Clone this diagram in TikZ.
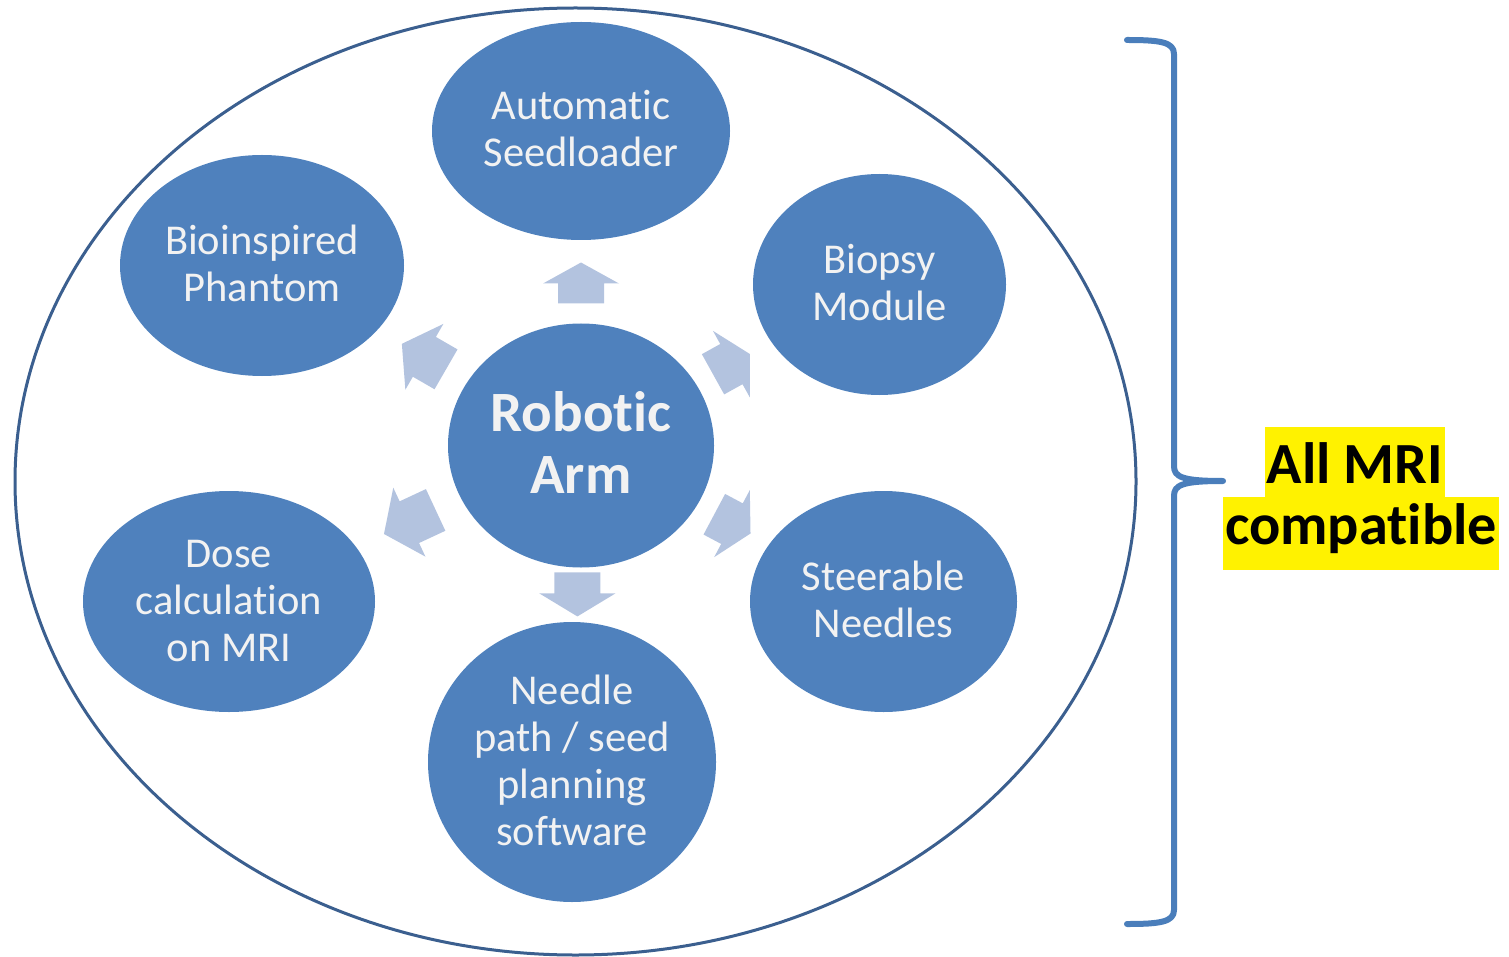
\documentclass[tikz,border=0pt]{standalone}
\usepackage{fontspec}
\setmainfont{Carlito}[Ligatures={NoCommon,NoContextual}]
\usetikzlibrary{shapes.geometric,calc}
\definecolor{blobfill}{HTML}{4F81BD}
\definecolor{ringline}{HTML}{3B5F8F}
\definecolor{bracecol}{HTML}{4A7EBB}
\definecolor{arrowfill}{HTML}{B3C3DF}
\definecolor{lighttext}{HTML}{F2F2F2}
\newcommand{\RAtop}{\rule{0pt}{52pt}}
\newcommand{\RAbot}{\rule[-18pt]{0pt}{18pt}}
\newcommand{\Ls}{\rule[-11pt]{0pt}{47pt}}
\tikzset{
  blob/.style={ellipse, fill=blobfill, draw=none, inner sep=0pt, align=center,
    text=lighttext, font=\fontsize{42.5}{47}\selectfont},
  hub/.style={blob, font=\fontsize{57}{62}\selectfont\bfseries},
  ring/.style={ellipse, draw=ringline, line width=3pt, inner sep=0pt},
  hilite/.style={fill=yellow, inner xsep=2pt, inner ysep=0pt, anchor=base,
    font=\fontsize{58.3}{70}\selectfont\bfseries, text=black},
  bracestyle/.style={draw=bracecol, line width=6pt, line cap=round, line join=round},
  pics/barrow/.style 2 args={code={
    \fill[arrowfill] (0,-23) -- (#1,-23) -- (#1,-38) -- ({#1+#2},0) -- (#1,38) -- (#1,23) -- (0,23) -- cycle;}}
}
\begin{document}
\begin{tikzpicture}[x=1pt,y=-1pt]
\useasboundingbox (0,0) rectangle (1509,957);
% outer ring
\node[ring, minimum width=1121pt, minimum height=947pt] (outer) at (575.5,481.5) {};
% satellites
\node[blob, minimum width=298pt, minimum height=218pt] (seed) at (581,131) {\Ls Automatic\\\Ls Seedloader};
\node[blob, minimum width=284pt, minimum height=221pt] (phantom) at (262,265.5) {\Ls Bioinspired\\\Ls Phantom};
\node[blob, minimum width=253pt, minimum height=221pt] (bio) at (879.5,284.5) {\Ls Biopsy\\\Ls Module};
\node[blob, minimum width=292pt, minimum height=221pt] (dose) at (229,601.5) {\Ls Dose\\\Ls calculation\\\Ls on MRI};
\node[blob, minimum width=267pt, minimum height=221pt] (steer) at (883.5,601.5) {\Ls Steerable\\\Ls Needles};
\node[blob, minimum width=288pt, minimum height=280pt] (needle) at (572,762) {\Ls Needle\\\Ls path / seed\\\Ls planning\\\Ls software};
% hub
\node[hub, minimum width=266pt, minimum height=244pt] (robot) at (581,445.5) {\RAtop Robotic\\Arm\RAbot};
% block arrows from hub towards satellites
\pic[rotate=90]  at ($(robot.center)!142pt!(seed.center)$)    {barrow={20}{21}};
\pic[rotate=29]  at ($(robot.center)!150pt!(bio.center)$)     {barrow={21}{21}};
\pic[rotate=-28] at ($(robot.center)!150pt!(steer.center)$)   {barrow={20}{21}};
\pic[rotate=-90] at ($(robot.center)!127pt!(needle.center)$)  {barrow={21}{23}};
\pic[rotate=205] at ($(robot.center)!159pt!(dose.center)$)    {barrow={29}{28}};
\pic[rotate=150] at ($(robot.center)!155pt!(phantom.center)$) {barrow={25}{26}};
% brace
\coordinate (btop) at (1127,40);
\coordinate (btip) at (1223,481);
\coordinate (bbot) at (1127,924);
\draw[bracestyle] (btop) .. controls (1160,40) and (1174,42) .. (1174,54) -- (1174,466)
  .. controls (1174,477) and (1182,481) .. (btip)
  .. controls (1182,481) and (1174,485) .. (1174,496) -- (1174,910)
  .. controls (1174,922) and (1160,924) .. (bbot);
% label
\node[hilite, text height=56pt, text depth=14pt] (mri1) at (1355,483) {All MRI};
\node[hilite, text height=47pt, text depth=26pt] (mri2) at (1361,544) {compatible};
\end{tikzpicture}
\end{document}
